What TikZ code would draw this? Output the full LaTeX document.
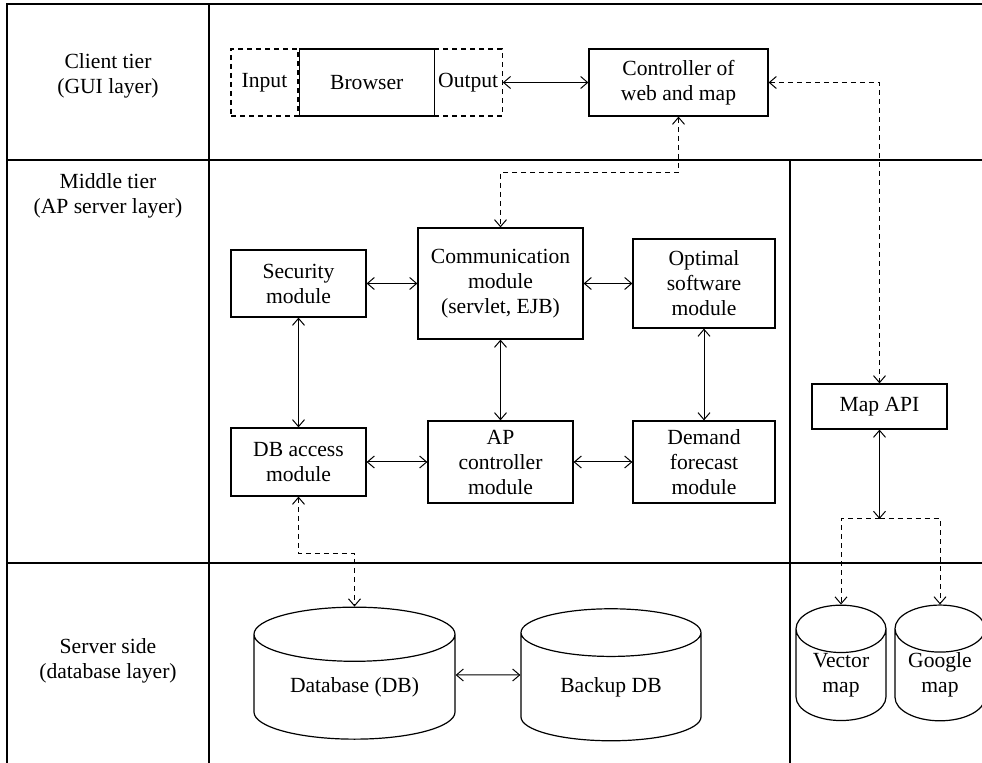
\documentclass[tikz,border=0pt]{standalone}
\usepackage{fontspec}
\setmainfont{Liberation Serif}
\usetikzlibrary{arrows.meta,positioning,shapes.geometric}

\begin{document}
\begin{tikzpicture}[x=0.5pt, y=-0.5pt, font=\fontsize{10.8}{12.5}\selectfont,
      box/.style={rectangle, draw, line width=0.6pt, align=center, inner sep=2pt},
      dbox/.style={box, dash pattern=on 2.5pt off 2pt},
      store/.style={cylinder, shape border rotate=90, draw, line width=0.6pt,
                    align=center, inner sep=0pt},
      link/.style={{Straight Barb[length=3.5pt,width=6pt]}-{Straight Barb[length=3.5pt,width=6pt]},
                   line width=0.5pt},
      dlink/.style={link, dash pattern=on 2.5pt off 2pt},
      tolink/.style={-{Straight Barb[length=3.5pt,width=6pt]}, line width=0.5pt,
                     dash pattern=on 2.5pt off 2pt},
      frame/.style={line width=0.9pt}]
    \useasboundingbox (0,0) rectangle (982,763);
    % tiers
    \draw[frame] (7,763) -- (7,4) -- (982,4);
    \draw[frame] (209,4) -- (209,763);
    \draw[frame] (7,160) -- (982,160);
    \draw[frame] (7,563) -- (982,563);
    \draw[frame] (790,160) -- (790,763);
    \node[align=center] (client) at (108,76) {Client tier\\(GUI layer)};
    \node[align=center] (middle) at (108,196) {Middle tier\\(AP server layer)};
    \node[align=center] (server) at (108,661) {Server side\\(database layer)};
    % client tier
    \node[dbox, minimum width=33.5pt, minimum height=33.5pt] (input) at (264.5,82.5) {Input};
    \node[dbox, minimum width=33.5pt, minimum height=33.5pt, right=67.5pt of input] (output) {Output};
    \node[box, minimum width=67.5pt, minimum height=33.5pt, right=0pt of input] (browser) {Browser};
    \node[box, minimum width=89.5pt, minimum height=33.5pt] (ctrl) at (678.5,82.5) {Controller of\\web and map};
    % middle tier
    \node[box, minimum width=67.5pt, minimum height=33.5pt] (secmod) at (298.5,283.5) {Security\\module};
    \node[box, minimum width=82.5pt, minimum height=55.5pt] (commod) at (500.5,283.5) {Communication\\module\\(servlet, EJB)};
    \node[box, minimum width=71pt, minimum height=44.5pt] (optmod) at (704,283.5) {Optimal\\software\\module};
    \node[box, minimum width=67.5pt, minimum height=34pt] (dbamod) at (298.5,462) {DB access\\module};
    \node[box, minimum width=72.5pt, minimum height=41pt] (apmod) at (500.5,462) {AP\\controller\\module};
    \node[box, minimum width=71pt, minimum height=41pt] (demmod) at (704,462) {Demand\\forecast\\module};
    \node[box, minimum width=67.5pt, minimum height=22.5pt] (mapapi) at (879.5,406.5) {Map API};
    % server side
    \node[store, minimum width=100.5pt, minimum height=66pt, aspect=0.42] (maindb) at (354.5,687) {Database (DB)};
    \node[store, minimum width=90pt, minimum height=66pt, aspect=0.47] (backdb) at (611,687) {Backup DB};
    \node[store, minimum width=45pt, minimum height=54pt, aspect=0.84] (vecmap) at (841,675) {Vector\\map};
    \node[store, minimum width=45pt, minimum height=54pt, aspect=0.84] (goomap) at (940,675) {\makebox[28pt]{Google}\\map};
    \coordinate (split) at (879.5,519);
    % connectors
    \draw[link] (output) -- (ctrl);
    \draw[dlink] (ctrl.east) -| (mapapi.north);
    \draw[dlink] (ctrl.south) -- ++(0,56) -| (commod.north);
    \draw[link] (secmod) -- (commod);
    \draw[link] (commod) -- (optmod);
    \draw[link] (secmod) -- (dbamod);
    \draw[link] (commod) -- (apmod);
    \draw[link] (optmod) -- (demmod);
    \draw[link] (dbamod) -- (apmod);
    \draw[link] (apmod) -- (demmod);
    \draw[dlink] (dbamod.south) -- ++(0,57) -| (maindb.north);
    \draw[link] ([yshift=6pt]maindb.east) -- ([yshift=6pt]backdb.west);
    \draw[link] (mapapi) -- (split);
    \draw[tolink] (split) -| (vecmap.north);
    \draw[tolink] (split) -| (goomap.north);
  \end{tikzpicture}
\end{document}
